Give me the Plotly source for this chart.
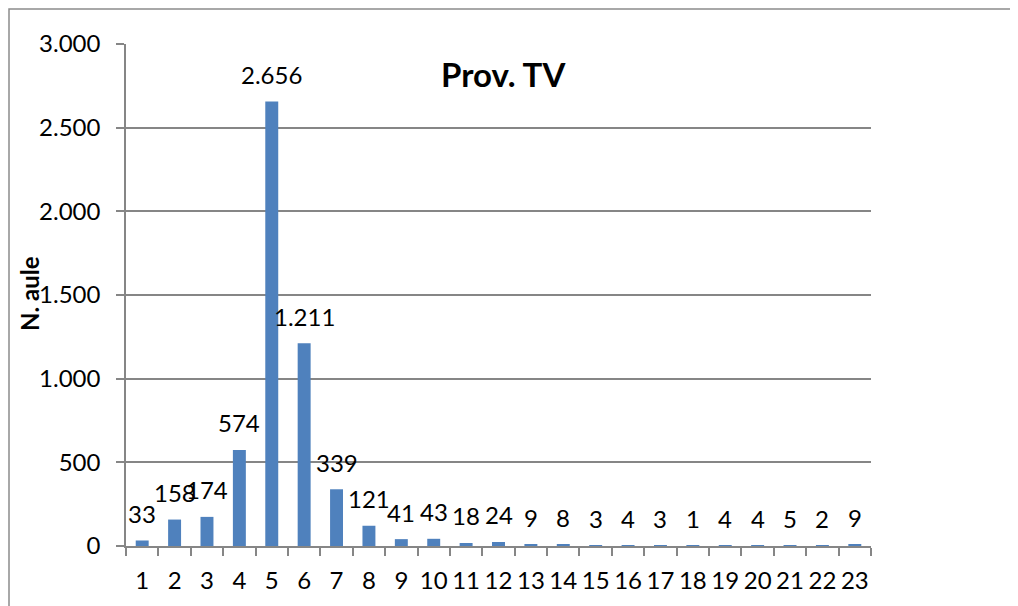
import plotly.graph_objects as go

categories = [str(i) for i in range(1, 24)]
values = [33, 158, 174, 574, 2656, 1211, 339, 121, 41, 43, 18, 24, 9, 8, 3, 4, 3, 1, 4, 4, 5, 2, 9]
y_ticks = [0, 500, 1000, 1500, 2000, 2500, 3000]
title_text = "Prov. TV"
y_title = "N. aule"

FONT = "Lato"
OFF = 8  # browser body margin
W, H = 1018 - OFF, 606 - OFF
# target screen coordinates of the plot area
SX0, SX1, SY0, SY1 = 126, 871, 44, 546
L, R, T, B = SX0 - OFF, W - (SX1 - OFF), SY0 - OFF, H - (SY1 - OFF)
pw, ph = W - L - R, H - T - B

def px(sx):
    return (sx - SX0) / pw

def py(sy):
    return (SY1 - sy) / ph

fig = go.Figure()
fig.add_trace(go.Bar(x=categories, y=values, marker=dict(color="#4F81BD", line=dict(width=0)),
                     hoverinfo="x+y"))

def fmt(v):
    return f"{v:,}".replace(",", ".")

annotations = []
for i, v in enumerate(values):
    annotations.append(dict(x=i, y=v, xref="x", yref="y", text=fmt(v), showarrow=False,
                            yanchor="middle", yshift=27,
                            font=dict(family=FONT, size=24, color="black")))

annotations.append(dict(x=px(503), y=py(74), xref="paper", yref="paper",
                        text=f"<b>{title_text}</b>", showarrow=False, xanchor="center", yanchor="middle",
                        font=dict(family=FONT, size=33, color="black")))
annotations.append(dict(x=px(29), y=py(294), xref="paper", yref="paper",
                        text=f"<b>{y_title}</b>", showarrow=False, textangle=-90,
                        xanchor="center", yanchor="middle",
                        font=dict(family=FONT, size=24, color="black")))

fig.update_layout(
    width=W, height=H,
    margin=dict(l=L, r=R, t=T, b=B, pad=0),
    paper_bgcolor="white", plot_bgcolor="white",
    separators=",.",
    bargap=0.6,
    showlegend=False,
    annotations=annotations,
    font=dict(family=FONT, size=24, color="black"),
    shapes=[dict(type="rect", xref="paper", yref="paper",
                 x0=px(9), x1=px(1040),
                 y0=py(640), y1=py(9),
                 line=dict(color="#8c8c8c", width=1.5), fillcolor="rgba(0,0,0,0)", layer="below")],
)
fig.update_xaxes(type="category", showline=True, linecolor="#868686", linewidth=1.5,
                 ticks="outside", tickson="boundaries", ticklen=8, tickcolor="#868686", tickwidth=1.5,
                 showgrid=False, tickfont=dict(family=FONT, size=24, color="black"),
                 tickangle=0, automargin=False, ticklabelstandoff=12)
fig.update_yaxes(range=[0, 3000], tickvals=y_ticks, tickformat=",d",
                 showline=True, linecolor="#868686", linewidth=1.5,
                 ticks="outside", ticklen=8, tickcolor="#868686", tickwidth=1.5,
                 showgrid=True, gridcolor="#868686", gridwidth=1.5, zeroline=False,
                 tickfont=dict(family=FONT, size=24, color="black"),
                 automargin=False, ticklabelstandoff=11)

fig.write_html("out.html")
